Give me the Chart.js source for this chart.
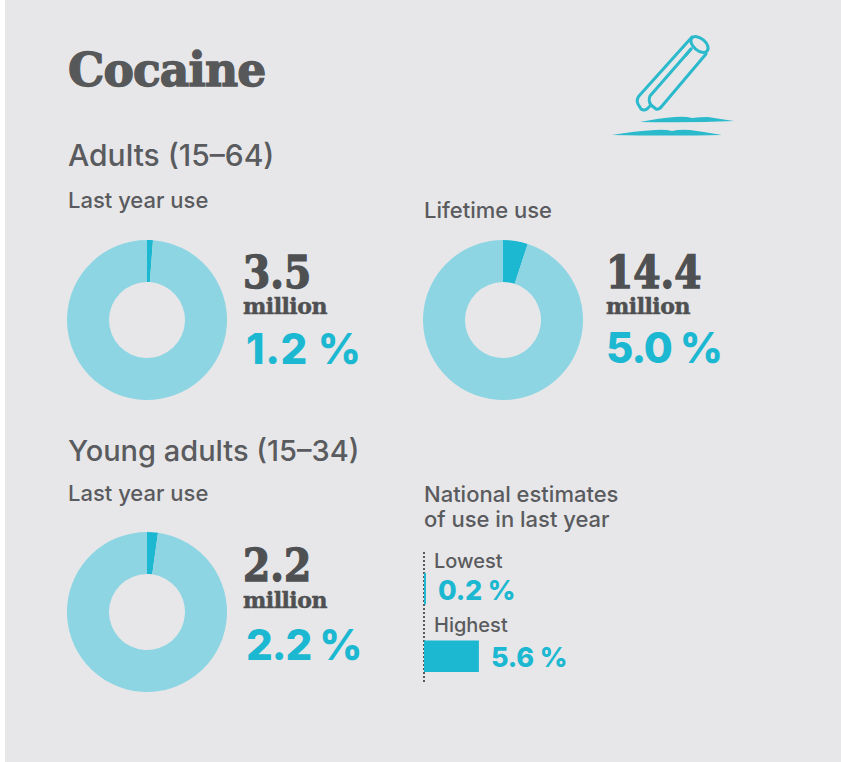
<!DOCTYPE html>
<html>
<head>
<meta charset="utf-8">
<title>Cocaine</title>
<script src="https://cdn.jsdelivr.net/npm/chart.js@4"></script>
<style>
  html, body { margin: 0; padding: 0; background: #fff; }
  #page { position: relative; width: 841px; height: 762px; overflow: hidden; background: #fff; }
  #panel { position: absolute; left: 5px; top: 0; width: 836px; height: 762px; background: #e7e7e9; }
  .t { position: absolute; white-space: nowrap; color: #5a5b5e; font-family: "Inter", sans-serif; line-height: 1; }
  .h1 { font-family: "DejaVu Serif", serif; font-weight: 700; font-size: 47px; letter-spacing: -0.9px; -webkit-text-stroke: 1.4px #57585a; color: #57585a; transform: scaleX(.97); transform-origin: left; }
  .h2 { font-size: 30px; font-weight: 500; }
  .h2b { font-size: 29px; font-weight: 500; }
  .h3 { font-size: 22px; font-weight: 500; }
  .h4 { font-size: 20px; font-weight: 500; }
  .num { font-family: "DejaVu Serif", serif; font-weight: 700; font-size: 44px; color: #4f5052; -webkit-text-stroke: 1.4px #4f5052; transform: scaleX(.89); transform-origin: left; }
  .mil { font-family: "DejaVu Serif", serif; font-weight: 700; font-size: 22px; letter-spacing: -0.5px; color: #4f5052; -webkit-text-stroke: .5px #4f5052; }
  .pct { font-weight: 800; font-size: 42px; color: #1cb8d1; letter-spacing: -1.1px; }
  .pct-s { font-weight: 800; font-size: 27px; color: #1cb8d1; letter-spacing: -0.2px; }
  canvas { position: absolute; }
  #axis { position: absolute; left: 423px; top: 552px; height: 130px; border-left: 2px dotted #58595b; }
</style>
</head>
<body>
<div id="page">
  <div id="panel"></div>

  <div class="t h1" style="left:68px;top:46px">Cocaine</div>
  <div class="t h2" style="left:68px;top:140px">Adults (15–64)</div>
  <div class="t h3" style="left:68px;top:189px">Last year use</div>
  <div class="t h3" style="left:424px;top:199px">Lifetime use</div>
  <div class="t h2b" style="left:68px;top:436px">Young adults (15–34)</div>
  <div class="t h3" style="left:68px;top:482px">Last year use</div>
  <div class="t h3" style="left:424px;top:483px">National estimates</div>
  <div class="t h3" style="left:424px;top:508px">of use in last year</div>

  <div class="t num" style="left:243px;top:251px">3.5</div>
  <div class="t mil" style="left:243px;top:295px">million</div>
  <div class="t pct" style="left:246px;top:328px;letter-spacing:.6px">1.2 %</div>

  <div class="t num" style="left:606px;top:251px">14.4</div>
  <div class="t mil" style="left:606px;top:295px">million</div>
  <div class="t pct" style="left:606px;top:327px">5.0 %</div>

  <div class="t num" style="left:243px;top:544px">2.2</div>
  <div class="t mil" style="left:243px;top:589px">million</div>
  <div class="t pct" style="left:246px;top:624px">2.2 %</div>

  <div class="t h4" style="left:434px;top:551px">Lowest</div>
  <div class="t pct-s" style="left:438px;top:577px">0.2 %</div>
  <div class="t h4" style="left:434px;top:615px">Highest</div>
  <div class="t pct-s" style="left:491px;top:644px">5.6 %</div>

  <svg style="position:absolute;left:600px;top:20px" width="160" height="130" viewBox="0 0 160 130">
    <g fill="none" stroke="#2bb9cc" stroke-width="3" stroke-linejoin="round" stroke-linecap="round">
      <path d="M92 17 L39 76 Q36 80 38 84 L41 89 Q44 91 47 89 L51 85 L56 89 Q59 90 62 86 L106 34"/>
      <path d="M91 29 L50 76 Q48 81 51 85"/>
      <path d="M91 29 L86 35"/>
      <ellipse cx="99.5" cy="24.5" rx="10" ry="6" transform="rotate(40 99.5 24.5)"/>
    </g>
    <path d="M40 102 Q60 98 75 97 Q85 96 92 98 Q100 97 108 97 Q120 99 134 101 Q90 103 40 102Z" fill="#2bb9cc"/>
    <path d="M12 115 Q35 111 55 110 Q65 109 72 111 Q80 109 90 110 Q105 112 122 115 Q70 116 12 115Z" fill="#2bb9cc"/>
  </svg>

  <canvas id="donutAdults" style="left:62px;top:235px;width:170px;height:170px"></canvas>
  <canvas id="donutLifetime" style="left:418px;top:235px;width:170px;height:170px"></canvas>
  <canvas id="donutYoung" style="left:62px;top:527px;width:170px;height:170px"></canvas>
  <div id="axis"></div>
  <canvas id="barNational" style="left:424px;top:555px;width:150px;height:135px"></canvas>
</div>

<script>
// percentages
const sliceLabels = ['Users', 'Rest of population'];
const adultsLastYear = [1.2, 98.8];
const adultsLifetime = [5.0, 95.0];
const youngLastYear = [2.2, 97.8];
const sliceColors = ['#1cb8d1', '#8dd5e3'];

const nationalLabels = ['Lowest', 'Highest'];
const nationalValues = [0.2, 5.6];

Chart.defaults.animation = false;

function makeDonut(id, values) {
    new Chart(document.getElementById(id), {
        type: 'doughnut',
        data: {
            labels: sliceLabels,
            datasets: [{ data: values, backgroundColor: sliceColors, borderWidth: 0 }]
        },
        options: {
            responsive: false,
            cutout: '47.5%',
            layout: { padding: 5 },
            plugins: { legend: { display: false }, tooltip: { enabled: false } }
        }
    });
}

makeDonut('donutAdults', adultsLastYear);
makeDonut('donutLifetime', adultsLifetime);
makeDonut('donutYoung', youngLastYear);

new Chart(document.getElementById('barNational'), {
    type: 'bar',
    data: {
        labels: nationalLabels,
        datasets: [{ data: nationalValues, backgroundColor: '#1cb8d1', borderWidth: 0, categoryPercentage: 1, barPercentage: 0.47 }]
    },
    options: {
        indexAxis: 'y',
        responsive: false,
        layout: { padding: 0 },
        plugins: { legend: { display: false }, tooltip: { enabled: false } },
        scales: {
            x: { display: false, min: 0, max: 15.3 },
            y: { display: false }
        }
    }
});
</script>
</body>
</html>
